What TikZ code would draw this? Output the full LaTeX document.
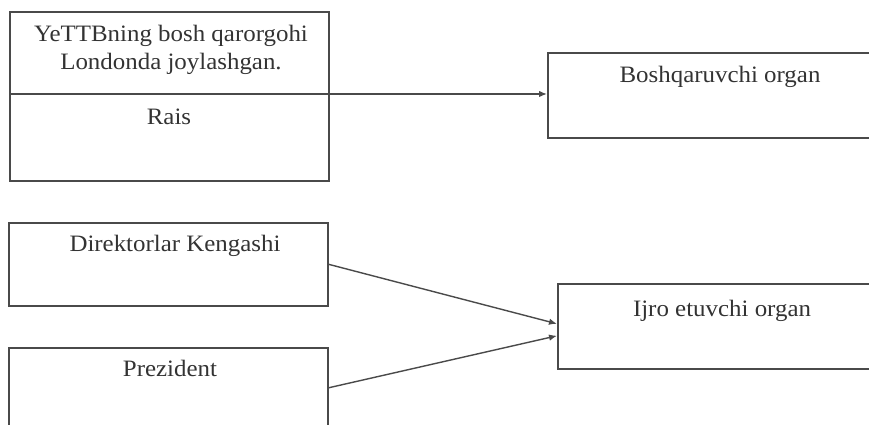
\documentclass[tikz,border=0pt]{standalone}
\usepackage{fontspec}
\setmainfont{Liberation Serif}[FakeStretch=1.06]
\usetikzlibrary{arrows.meta,calc}
\definecolor{linec}{HTML}{4A4A4A}
\definecolor{textc}{HTML}{333333}
\tikzset{
  boxst/.style={draw=linec, line width=1.6pt, rectangle, inner sep=0pt, anchor=north west},
  txt/.style={text=textc, font=\fontsize{23.5}{28}\selectfont, inner sep=0pt, anchor=base, align=center},
  arr/.style={draw=linec, line width=1.4pt, -{Latex[length=8pt,width=6.5pt]}}
}
\begin{document}
\begin{tikzpicture}[x=1pt,y=1pt]
\useasboundingbox (0,0) rectangle (869,425);
\clip (0,0) rectangle (869,425);
% boxes (y = 425 - image y)
\node[boxst, minimum width=319pt, minimum height=169pt] (hq) at (9,414) {};
\node[boxst, minimum width=346pt, minimum height=85pt] (bosh) at (547,373) {};
\node[boxst, minimum width=319pt, minimum height=83pt] (dir) at (8,203) {};
\node[boxst, minimum width=319pt, minimum height=80pt] (prez) at (8,78) {};
\node[boxst, minimum width=330pt, minimum height=85pt] (ijro) at (557,142) {};
% texts
\node[txt] (t1) at (171,355) {YeTTBning bosh qarorgohi\\Londonda joylashgan.};
\node[txt] (t2) at (169,300) {Rais};
\node[txt] (t3) at (720,342) {Boshqaruvchi organ};
\node[txt] (t4) at (175,173) {Direktorlar Kengashi};
\node[txt] (t5) at (170,48) {Prezident};
\node[txt] (t6) at (722,108) {Ijro etuvchi organ};
% divider line continuing as arrow
\coordinate (div) at (hq.west |- 0,331);
\draw[arr] (div) -- (div -| bosh.west);
\draw[arr] (dir.east) -- ($(ijro.west)+(0,2.5)$);
\draw[arr] (prez.east) -- ($(ijro.west)+(0,-9.5)$);
\end{tikzpicture}
\end{document}
